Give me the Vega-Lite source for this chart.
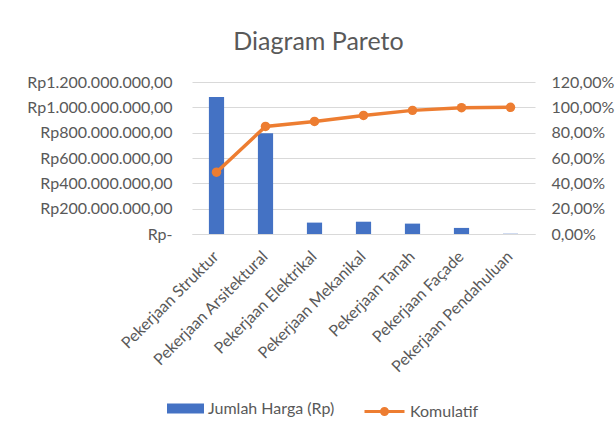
{
  "$schema": "https://vega.github.io/schema/vega-lite/v6.json",
  "autosize": {"type": "none"},
  "width": 343,
  "height": 152,
  "padding": {"left": 192, "top": 82, "right": 80, "bottom": 203},
  "background": "white",
  "title": {"text": "Diagram Pareto", "anchor": "middle", "frame": "group", "dx": -45, "offset": 19, "fontSize": 25, "font": "Lato", "fontWeight": "normal", "color": "#595959"},
  "config": {
    "locale": {"number": {"decimal": ",", "thousands": ".", "grouping": [3], "currency": ["Rp", ""]}},
    "view": {"stroke": null},
    "font": "Lato",
    "axis": {"labelFont": "Lato", "labelFontSize": 16, "labelColor": "#595959", "ticks": false, "domain": false, "title": null, "gridColor": "#D9D9D9", "gridWidth": 1.2},
    "legend": {"labelFont": "Lato", "labelFontSize": 16, "labelColor": "#595959"}
  },
  "data": {"values": [
    {"Kategori": "Pekerjaan Struktur", "Jumlah": 1081000000, "Komulatif": 0.488},
    {"Kategori": "Pekerjaan Arsitektural", "Jumlah": 795000000, "Komulatif": 0.849},
    {"Kategori": "Pekerjaan Elektrikal", "Jumlah": 90000000, "Komulatif": 0.889},
    {"Kategori": "Pekerjaan Mekanikal", "Jumlah": 97000000, "Komulatif": 0.936},
    {"Kategori": "Pekerjaan Tanah", "Jumlah": 82000000, "Komulatif": 0.976},
    {"Kategori": "Pekerjaan Façade", "Jumlah": 48000000, "Komulatif": 0.997},
    {"Kategori": "Pekerjaan Pendahuluan", "Jumlah": 2000000, "Komulatif": 1.0}
  ]},
  "encoding": {
    "x": {"field": "Kategori", "type": "nominal", "sort": null,
      "scale": {"paddingInner": 0, "paddingOuter": 0},
      "axis": {"labelAngle": -45, "domain": true, "domainColor": "#D9D9D9", "domainWidth": 1.2, "labelPadding": 14, "labelOffset": -6}}
  },
  "layer": [
    {
      "mark": {"type": "bar", "width": {"band": 0.31}},
      "encoding": {
        "y": {"field": "Jumlah", "type": "quantitative", "scale": {"domain": [0, 1200000000]},
          "axis": {"orient": "left", "grid": true, "values": [0, 200000000, 400000000, 600000000, 800000000, 1000000000, 1200000000], "format": "$,.2f", "labelExpr": "datum.value === 0 ? 'Rp-' : datum.label", "labelPadding": 20}},
        "color": {"datum": "Jumlah Harga (Rp)", "type": "nominal", "scale": {"range": ["#4472C4"]},
          "legend": {"title": null, "orient": "none", "legendX": -25, "legendY": 308, "symbolType": "M-1,-0.27H1V0.27H-1Z", "symbolSize": 1369, "symbolStrokeWidth": 0, "labelOffset": 4}}
      }
    },
    {
      "mark": {"type": "line", "strokeWidth": 3.5, "point": {"filled": true, "size": 90}},
      "encoding": {
        "y": {"field": "Komulatif", "type": "quantitative", "scale": {"domain": [0, 1.2]},
          "axis": {"orient": "right", "grid": false, "values": [0, 0.2, 0.4, 0.6, 0.8, 1.0, 1.2], "format": ".2%", "labelPadding": 16}},
        "color": {"datum": "Komulatif", "type": "nominal", "scale": {"range": ["#ED7D31"]},
          "legend": {"title": null, "orient": "none", "legendX": 171, "legendY": 308, "symbolType": "M-1,0H1M0.15,0A0.15,0.15,0,1,1,-0.15,0A0.15,0.15,0,1,1,0.15,0Z", "symbolSize": 1600, "symbolStrokeWidth": 3, "symbolFillColor": "#ED7D31", "symbolStrokeColor": "#ED7D31", "labelOffset": 4}}
      }
    }
  ],
  "resolve": {"scale": {"y": "independent", "color": "independent"}}
}
